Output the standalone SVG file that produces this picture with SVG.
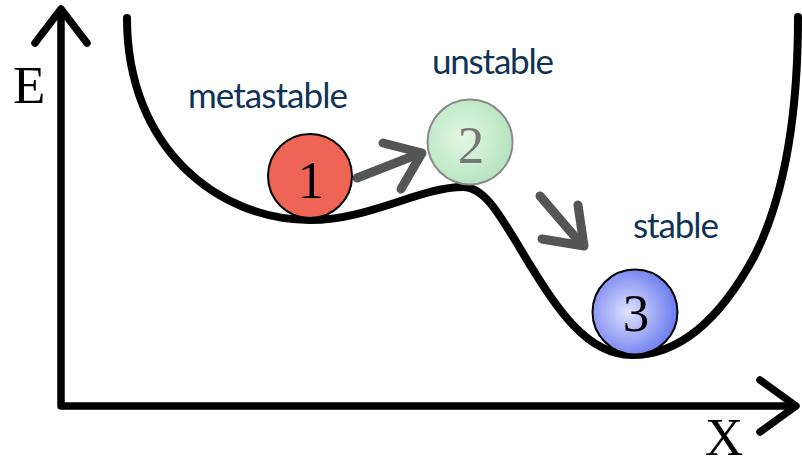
<svg xmlns="http://www.w3.org/2000/svg" width="802" height="459" viewBox="0 0 802 459">
  <defs>
    <radialGradient id="gGreen" cx="0.42" cy="0.45" r="0.6">
      <stop offset="0" stop-color="#e2f7e4"/>
      <stop offset="1" stop-color="#b5e3bd"/>
    </radialGradient>
    <radialGradient id="gBlue" cx="0.42" cy="0.5" r="0.6">
      <stop offset="0" stop-color="#dfe3ff"/>
      <stop offset="1" stop-color="#6676ee"/>
    </radialGradient>
  </defs>
  <style>
    .axis { fill: none; stroke: #000; stroke-width: 7.5; stroke-linecap: round; stroke-linejoin: round; }
    .curve { fill: none; stroke: #000; stroke-width: 8; stroke-linecap: round; stroke-linejoin: round; }
    .move { fill: none; stroke: #555; stroke-width: 9; stroke-linecap: round; stroke-linejoin: round; }
    .axlabel { font-family: "Liberation Serif", "DejaVu Serif", serif; font-size: 53px; fill: #000; }
    .num { font-family: "Liberation Serif", "DejaVu Serif", serif; font-size: 53px; text-anchor: middle; }
    .state { font-family: Lato, "Open Sans", "Liberation Sans", sans-serif; font-size: 35px; fill: #0f3356; }
  </style>

  <g id="axes">
    <path class="axis" d="M61,10 L61,406 L795,406"/>
    <path class="axis" d="M35,43 L61,9 L87,43"/>
    <path class="axis" d="M760,380 L796,406 L760,432"/>
    <text class="axlabel" x="13" y="103">E</text>
    <text class="axlabel" x="705" y="455">X</text>
  </g>

  <g id="energy-curve">
    <path class="curve" d="M127,18 C127,150 220,220 310,220 C370,220 420,187 463,187 C485,187 500,215 527,260 C555,305 585,355 632,355 C680,355 720,320 755,255 C785,195 798,110 798,17"/>
  </g>

  <g id="connectors">
    <path class="move" d="M357,178 L421,153"/>
    <path class="move" d="M383,143 L422,153 L401,189"/>
    <path class="move" d="M540,196 L582,245"/>
    <path class="move" d="M578,205 L584,246 L542,239"/>
  </g>

  <g id="state-1">
    <circle cx="310" cy="176" r="42" fill="#ee6455" stroke="#000" stroke-width="2"/>
    <text class="num" x="311" y="198" fill="#000">1</text>
    <text class="state" x="188" y="108" textLength="160">metastable</text>
  </g>

  <g id="state-2">
    <circle cx="470" cy="142" r="42.5" fill="url(#gGreen)" stroke="#8a8a8a" stroke-width="2"/>
    <text class="num" x="471" y="163" fill="#777">2</text>
    <text class="state" x="432" y="74" textLength="122">unstable</text>
  </g>

  <g id="state-3">
    <circle cx="635" cy="312" r="42.5" fill="url(#gBlue)" stroke="#000" stroke-width="2"/>
    <text class="num" x="636" y="331" fill="#000">3</text>
    <text class="state" x="633" y="238" textLength="86">stable</text>
  </g>
</svg>
